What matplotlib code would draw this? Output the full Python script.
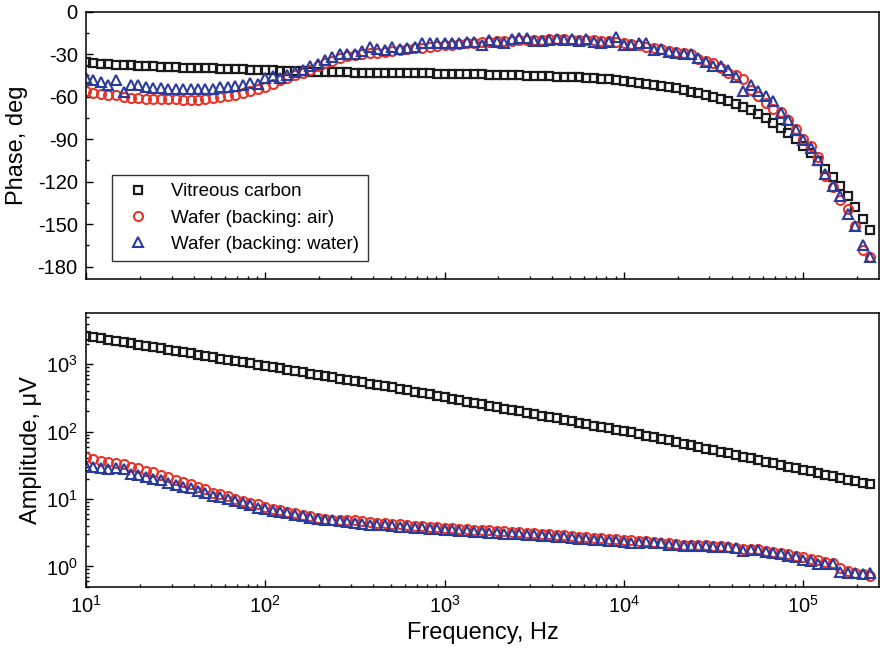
import matplotlib
matplotlib.use('Agg')
import matplotlib.pyplot as plt
from matplotlib.ticker import MultipleLocator, LogLocator, NullFormatter

plt.rcParams['font.family'] = ['Liberation Sans', 'DejaVu Sans']
plt.rcParams['axes.unicode_minus'] = False
plt.rcParams['mathtext.fontset'] = 'custom'
plt.rcParams['mathtext.rm'] = 'Liberation Sans'

# frequency sweep, Hz (24 points per decade)
freq = [10, 11.0, 12.1, 13.3, 14.7, 16.2, 17.8, 19.6, 21.5, 23.7, 26.1, 28.7,
        31.6, 34.8, 38.3, 42.2, 46.4, 51.1, 56.2, 61.9, 68.1, 75.0, 82.5, 90.9,
        100, 110, 121, 133, 147, 162, 178, 196, 215, 237, 261, 287,
        316, 348, 383, 422, 464, 511, 562, 619, 681, 750, 825, 909,
        1000, 1101, 1212, 1334, 1468, 1616, 1778, 1957, 2154, 2371, 2610, 2873,
        3162, 3481, 3831, 4217, 4642, 5109, 5623, 6190, 6813, 7499, 8254, 9085,
        10000, 11007, 12115, 13335, 14678, 16156, 17783, 19573, 21544, 23714, 26102, 28730,
        31623, 34807, 38312, 42170, 46416, 51090, 56234, 61897, 68129, 74989, 82540, 90852,
        100000, 110070, 121150, 133350, 146780, 161560, 177830, 195730, 215440, 237140]

# phase, deg
phase_vc = [-35.6, -36.1, -36.6, -37.1, -37.4, -37.6, -37.8, -38.0, -38.2, -38.5,
            -38.8, -39.0, -39.3, -39.5, -39.6, -39.8, -39.9, -40.0, -40.2, -40.4,
            -40.6, -40.8, -41.0, -41.2, -41.4, -41.5, -41.7, -41.8, -42.0, -42.2,
            -42.4, -42.5, -42.6, -42.7, -42.8, -42.9, -43.0, -43.0, -43.1, -43.1,
            -43.2, -43.3, -43.3, -43.4, -43.5, -43.5, -43.6, -43.7, -43.8, -43.9,
            -44.0, -44.1, -44.2, -44.3, -44.4, -44.5, -44.7, -44.8, -45.0, -45.1,
            -45.3, -45.4, -45.6, -45.8, -46.0, -46.2, -46.4, -46.7, -47.0, -47.4,
            -47.8, -48.3, -48.8, -49.4, -50.1, -50.7, -51.6, -52.4, -53.3, -54.2,
            -55.3, -56.4, -57.6, -58.8, -60.3, -61.8, -63.4, -65.0, -67.0, -69.2,
            -72.0, -75.2, -78.6, -82.2, -85.8, -89.8, -94.5, -99.5, -105.2, -110.8,
            -116.5, -122.8, -129.8, -137.8, -146.2, -154.5]
phase_air = [-55.9, -57.3, -57.8, -58.5, -58.9, -60.1, -60.6, -60.8, -61.3, -61.8,
             -61.8, -61.8, -61.8, -62.0, -62.0, -62.5, -61.3, -60.8, -60.1, -59.7,
             -58.5, -57.1, -55.9, -54.9, -53.5, -51.2, -48.3, -46.5, -44.8, -43.6,
             -41.3, -38.4, -36.5, -34.7, -33.0, -31.5, -30.5, -29.8, -29.2, -28.8,
             -28.3, -27.7, -27.1, -26.5, -25.9, -25.3, -24.7, -24.2, -23.7, -23.2,
             -22.8, -22.4, -22.0, -21.6, -21.3, -21.0, -20.7, -20.4, -20.2, -20.0,
             -19.8, -19.7, -19.6, -19.6, -19.6, -19.7, -19.8, -20.0, -20.3, -20.6,
             -21.0, -21.5, -22.1, -22.9, -23.8, -24.8, -25.6, -26.5, -27.4, -28.3,
             -29.1, -30.2, -33.5, -35.0, -36.5, -39.5, -43.1, -45.0, -47.2, -55.4,
             -59.7, -64.4, -68.4, -71.0, -76.6, -82.5, -89.6, -95.0, -102.4, -116.3,
             -123.8, -132.8, -139.1, -151.0, -168.6, -173.4]
phase_water = [-47.1, -47.9, -49.5, -51.9, -48.3, -56.6, -51.9, -51.9, -53.5, -54.2,
               -54.2, -54.9, -54.9, -54.9, -54.9, -54.9, -54.9, -54.9, -53.5, -53.5,
               -52.6, -51.9, -50.2, -50.7, -47.1, -45.5, -46.5, -44.8, -42.4, -41.3,
               -38.4, -37.0, -34.2, -32.3, -29.9, -29.9, -29.5, -27.6, -24.8, -26.6,
               -27.1, -24.8, -26.6, -25.9, -24.8, -22.4, -21.9, -22.4, -21.9, -21.9,
               -22.4, -21.2, -21.2, -23.6, -20.0, -21.2, -22.4, -19.5, -18.8, -18.8,
               -20.5, -20.5, -20.0, -19.5, -20.0, -19.5, -20.5, -19.5, -21.2, -21.9,
               -21.2, -18.1, -23.6, -23.6, -21.9, -21.9, -27.1, -26.6, -28.3, -29.0,
               -29.5, -29.9, -33.0, -35.4, -38.4, -38.4, -41.3, -46.0, -55.9, -51.9,
               -55.9, -59.7, -63.0, -71.5, -76.6, -83.5, -90.8, -96.0, -104.5, -114.4,
               -123.4, -130.4, -143.2, -151.0, -165.0, -172.9]

# amplitude, uV
amp_vc = [2624, 2512, 2410, 2307, 2213, 2118, 2028, 1945, 1862, 1786,
          1710, 1637, 1570, 1503, 1442, 1380, 1324, 1268, 1213, 1164,
          1114, 1069, 1023, 980, 940, 899, 863, 826, 792, 759,
          726, 697, 667, 640, 612, 586, 562, 538, 516, 497,
          473, 451, 430, 409, 390, 372, 355, 338, 322, 307,
          292, 279, 265, 253, 242, 230, 219, 209, 199, 190,
          181, 172, 164, 157, 149, 142, 136, 129, 123, 117,
          112, 107, 102, 97, 92.3, 87.3, 82.6, 78.0, 73.8, 69.8,
          66.1, 62.5, 59.0, 55.8, 52.8, 50.0, 47.3, 44.7, 42.3, 40.0,
          37.8, 35.8, 33.8, 32.0, 30.3, 28.6, 27.1, 25.6, 24.2, 22.9,
          21.7, 20.5, 19.4, 18.3, 17.3, 16.4]
amp_air = [41.6, 39.8, 37.2, 35.6, 34.5, 33.4, 29.9, 28.6, 26.2, 24.8,
           23.0, 21.5, 19.3, 17.9, 16.6, 15.2, 13.9, 12.4, 11.9, 10.9,
           10.0, 9.27, 8.77, 8.30, 7.69, 7.19, 6.89, 6.46, 6.17, 5.78,
           5.53, 5.30, 5.07, 4.95, 4.95, 4.80, 4.80, 4.65, 4.54, 4.45,
           4.39, 4.30, 4.21, 4.11, 4.03, 3.94, 3.85, 3.81, 3.73, 3.69,
           3.61, 3.57, 3.49, 3.45, 3.41, 3.38, 3.30, 3.27, 3.24, 3.16,
           3.13, 3.06, 3.03, 2.96, 2.90, 2.83, 2.77, 2.71, 2.65, 2.62,
           2.57, 2.54, 2.48, 2.43, 2.40, 2.35, 2.30, 2.25, 2.20, 2.15,
           2.11, 2.10, 2.08, 2.07, 2.04, 2.00, 1.95, 1.90, 1.84, 1.80,
           1.78, 1.72, 1.65, 1.60, 1.53, 1.45, 1.36, 1.30, 1.23, 1.17,
           1.12, 0.95, 0.85, 0.81, 0.76, 0.71]
amp_water = [30.9, 29.9, 28.6, 27.7, 28.6, 27.7, 23.5, 22.3, 21.1, 20.0,
             18.9, 17.5, 16.0, 15.2, 14.4, 13.3, 12.2, 11.2, 10.7, 10.0,
             9.27, 8.58, 8.03, 7.44, 7.04, 6.66, 6.46, 6.17, 5.78, 5.53,
             5.18, 5.07, 4.95, 4.80, 4.65, 4.54, 4.45, 4.30, 4.16, 4.07,
             4.05, 3.98, 3.90, 3.81, 3.74, 3.65, 3.57, 3.53, 3.46, 3.42,
             3.35, 3.31, 3.24, 3.20, 3.16, 3.13, 3.06, 3.03, 3.00, 2.93,
             2.90, 2.84, 2.81, 2.75, 2.69, 2.63, 2.57, 2.52, 2.46, 2.43,
             2.39, 2.36, 2.30, 2.26, 2.22, 2.28, 2.22, 2.19, 2.08, 2.09,
             1.99, 2.02, 1.98, 1.98, 1.97, 1.95, 1.91, 1.85, 1.72, 1.77,
             1.76, 1.66, 1.56, 1.52, 1.44, 1.36, 1.24, 1.22, 1.09, 1.09,
             1.09, 0.83, 0.79, 0.79, 0.77, 0.79]

labels = ['Vitreous carbon', 'Wafer (backing: air)', 'Wafer (backing: water)']
colors = ['#1a1a1a', '#e8352a', '#2b3b9c']
styles = [dict(marker='s', ms=5.5, mew=1.6),
          dict(marker='o', ms=6.5, mew=1.5),
          dict(marker='^', ms=7.5, mew=1.5)]

fig = plt.figure(figsize=(8.8, 6.52), dpi=100)
ax1 = fig.add_axes([0.0977, 0.5716, 0.9011, 0.4104])
ax2 = fig.add_axes([0.0977, 0.1002, 0.9011, 0.4202])

for ph, amp, lab, c, st in zip([phase_vc, phase_air, phase_water],
                               [amp_vc, amp_air, amp_water], labels, colors, styles):
    ax1.plot(freq, ph, ls='none', mfc='none', mec=c, label=lab, **st)
    ax2.plot(freq, amp, ls='none', mfc='none', mec=c, **st)

for ax in (ax1, ax2):
    ax.set_xscale('log')
    ax.set_xlim(10, 2.65e5)
    ax.tick_params(which='both', direction='in', top=False, right=False,
                   labelsize=14.5, pad=6, width=1)
    ax.tick_params(which='major', length=5)
    ax.tick_params(which='minor', length=2.5)
    for s in ax.spines.values():
        s.set_linewidth(1.1)

ax1.set_ylim(-189, 0)
ax1.yaxis.set_major_locator(MultipleLocator(30))
ax1.yaxis.set_minor_locator(MultipleLocator(15))
ax1.tick_params(labelbottom=False)
ax1.set_ylabel('Phase, deg', fontsize=17, labelpad=7)

ax2.set_yscale('log')
ax2.set_ylim(0.5, 5800)
ax2.yaxis.set_major_locator(LogLocator(base=10))
ax2.yaxis.set_minor_locator(LogLocator(base=10, subs=range(2, 10)))
ax2.yaxis.set_minor_formatter(NullFormatter())
ax2.set_ylabel('Amplitude, \u03bcV', fontsize=17, labelpad=3)
ax2.set_xlabel('Frequency, Hz', fontsize=17, labelpad=4)

leg = ax1.legend(loc='lower left', bbox_to_anchor=(0.033, 0.068), borderaxespad=0,
                 fontsize=13.5, frameon=True, fancybox=False, handlelength=1.9,
                 handletextpad=0.8, labelspacing=0.48, borderpad=0.45)
leg.get_frame().set_edgecolor('black')
leg.get_frame().set_linewidth(1.0)

fig.savefig('out.png', dpi=100)
